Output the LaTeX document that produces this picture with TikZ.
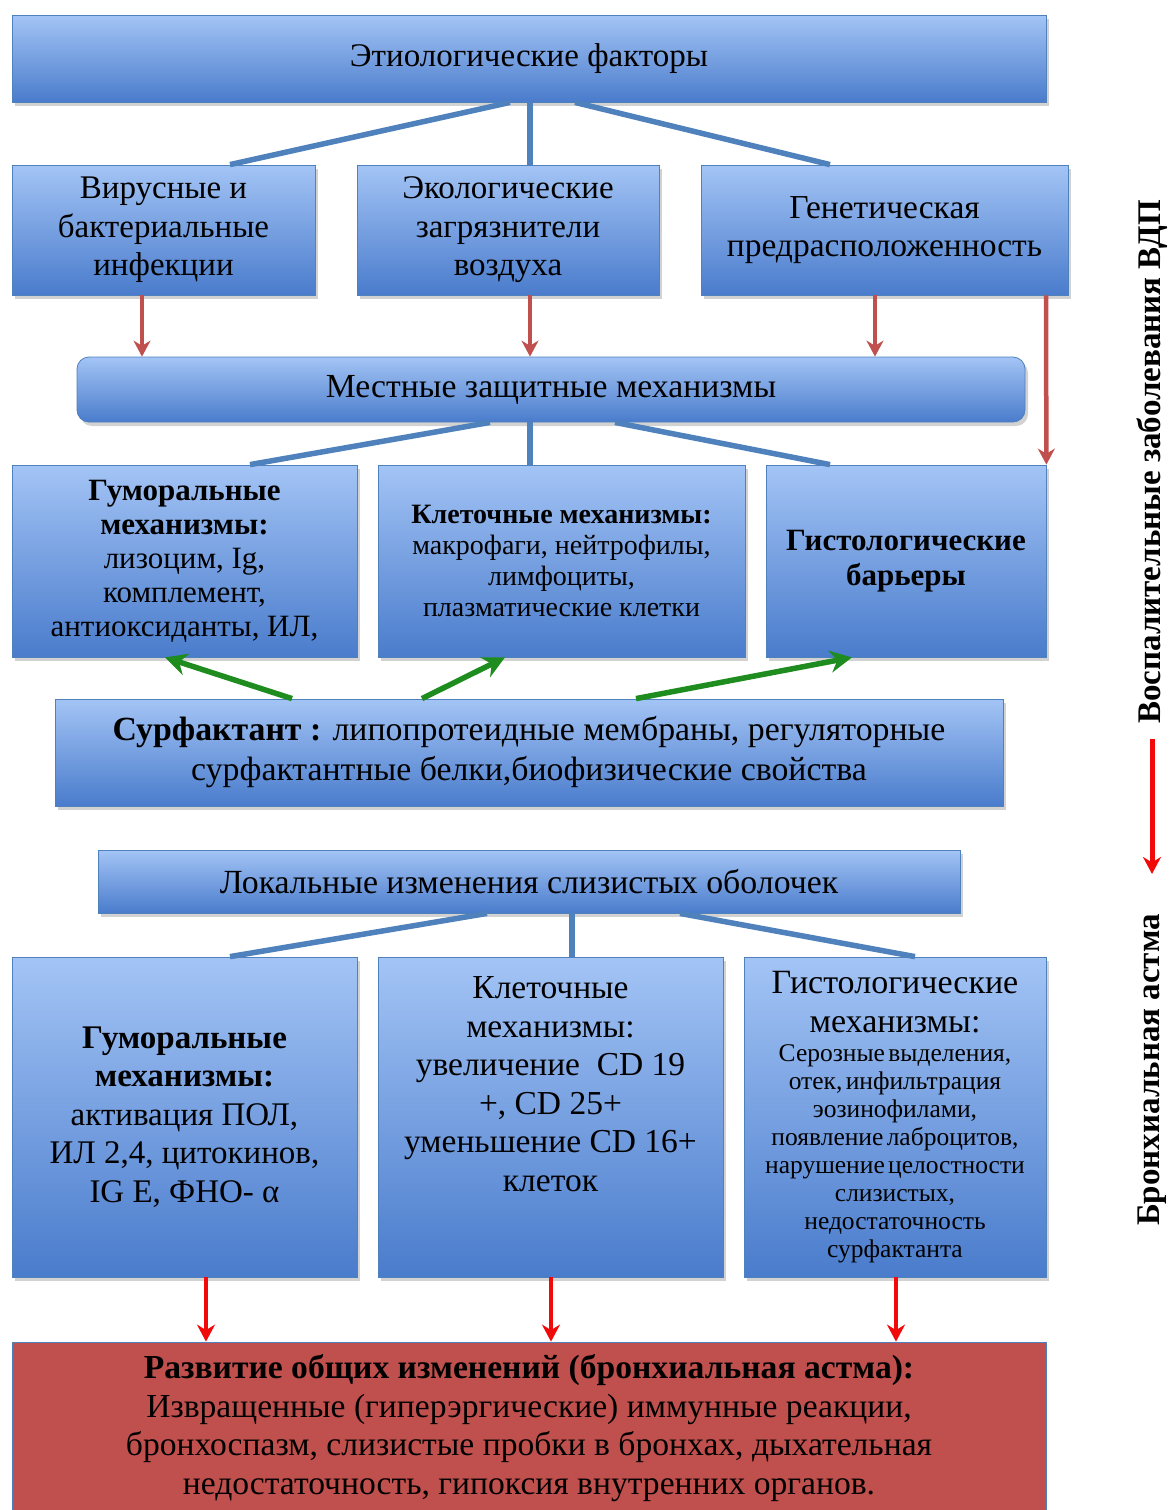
\documentclass[tikz,border=0pt]{standalone}
\usepackage{fontspec}
\setmainfont{Liberation Serif}
\usetikzlibrary{arrows.meta,shadows,calc}
\definecolor{boxtop}{RGB}{163,196,245}
\definecolor{boxbot}{RGB}{74,124,204}
\definecolor{boxline}{RGB}{79,129,189}
\definecolor{conn}{RGB}{79,129,189}
\definecolor{dred}{RGB}{192,80,77}
\definecolor{bred}{RGB}{240,10,10}
\definecolor{agreen}{RGB}{30,140,30}
\definecolor{finfill}{RGB}{192,80,77}
\newcommand\fsz[2]{\fontsize{#1}{#2}\selectfont}
\tikzset{
  bluebox/.style={draw=boxline, line width=0.8pt, top color=boxtop, bottom color=boxbot,
     drop shadow={shadow xshift=3pt,shadow yshift=-4pt,opacity=0.35}, align=center, inner sep=3pt},
  conline/.style={draw=conn, line width=5.5pt},
  redarr/.style={draw=dred, line width=4.5pt, -{Stealth[length=16pt,width=17pt]}},
  brarr/.style={draw=bred, line width=4.5pt, -{Stealth[length=17pt,width=18pt]}},
  grarr/.style={draw=agreen, line width=5.5pt, -{Stealth[length=22pt,width=22pt]}},
  vtext/.style={rotate=90, font=\bfseries\fsz{33}{38}, inner sep=2pt}
}
\begin{document}
\begin{tikzpicture}[x=1pt,y=-1pt]
\fill[white] (0,0) rectangle (1170,1510);
\useasboundingbox (0,0) rectangle (1170,1510);

% top
\node[bluebox, minimum width=1034pt, minimum height=87pt, font=\fsz{33}{38}] (top) at (529,58.5) {Этиологические факторы};

% row 2
\node[bluebox, minimum width=303pt, minimum height=130pt, font=\fsz{33}{38.5}] (vir) at (163.5,230) {Вирусные и\\бактериальные\\инфекции};
\node[bluebox, minimum width=302pt, minimum height=130pt, font=\fsz{33}{38.5}] (eco) at (508,230) {Экологические\\загрязнители\\воздуха};
\node[bluebox, minimum width=367pt, minimum height=130pt, font=\fsz{33.5}{38.5}] (gen) at (884.5,230) {Генетическая\\предрасположенность};

\draw[conline] ([xshift=-19pt]top.south) -- ([xshift=66.5pt]vir.north);
\draw[conline] ([xshift=1pt]top.south) -- ([xshift=22pt]eco.north);
\draw[conline] ([xshift=46pt]top.south) -- ([xshift=-54.5pt]gen.north);

% local defence
\node[bluebox, rounded corners=12pt, minimum width=948pt, minimum height=65pt, font=\fsz{33.7}{38}] (mest) at (551,389.5) {Местные защитные механизмы};

\draw[redarr] ([xshift=-21.5pt]vir.south) -- ([xshift=-21.5pt]vir.south |- mest.north);
\draw[redarr] ([xshift=22pt]eco.south) -- ([xshift=22pt]eco.south |- mest.north);
\draw[redarr] ([xshift=-9.5pt]gen.south) -- ([xshift=-9.5pt]gen.south |- mest.north);

% row 3
\node[bluebox, minimum width=345pt, minimum height=192pt, font=\fsz{31}{34}] (hum1) at (184.5,561) {\textbf{Гуморальные}\\\textbf{механизмы:}\\лизоцим, Ig,\\комплемент,\\антиоксиданты, ИЛ,};
\node[bluebox, minimum width=367pt, minimum height=192pt, font=\fsz{28}{31}] (kl1) at (561.5,561) {\textbf{Клеточные механизмы:}\\макрофаги, нейтрофилы,\\лимфоциты,\\плазматические клетки};
\node[bluebox, minimum width=280pt, minimum height=192pt, font=\fsz{31}{35}] (hist1) at (906,561) {\textbf{Гистологические}\\\textbf{барьеры}};

\draw[redarr] ([xshift=161.5pt]gen.south) -- (hist1.north east);

\draw[conline] ([xshift=-61pt]mest.south) -- ([xshift=65.5pt]hum1.north);
\draw[conline] ([xshift=-21pt]mest.south) -- ([xshift=-31.5pt]kl1.north);
\draw[conline] ([xshift=64pt]mest.south) -- ([xshift=-76pt]hist1.north);

% surfactant
\node[bluebox, minimum width=948pt, minimum height=107pt, font=\fsz{33.8}{40}] (surf) at (529,752.5) {\textbf{Сурфактант :} липопротеидные мембраны, регуляторные\\сурфактантные белки,биофизические свойства};

\draw[grarr] ([xshift=-237pt]surf.north) -- ([xshift=-19.5pt]hum1.south);
\draw[grarr] ([xshift=-107pt]surf.north) -- ([xshift=-56.5pt]kl1.south);
\draw[grarr] ([xshift=107pt]surf.north) -- ([xshift=-54pt]hist1.south);

% local changes
\node[bluebox, minimum width=862pt, minimum height=63pt, font=\fsz{33.8}{38}] (loc) at (529,881.5) {Локальные изменения слизистых оболочек};

% row 4
\node[bluebox, minimum width=345pt, minimum height=320pt, font=\fsz{33}{38.5}] (hum2) at (184.5,1117) {\textbf{Гуморальные}\\\textbf{механизмы:}\\активация ПОЛ,\\ИЛ 2,4, цитокинов,\\IG E, ФНО- α};
\node[bluebox, minimum width=345pt, minimum height=320pt] (kl2) at (550.5,1117) {};
\node[align=center, font=\fsz{33.5}{38.5}] (kl2t) at (550.5,1084) {Клеточные\\механизмы:\\увеличение~~CD 19\\+, CD 25+\\уменьшение CD 16+\\клеток};
\node[bluebox, minimum width=302pt, minimum height=320pt, text width=296pt] (hist2) at (895,1117) {{\fsz{34}{39}Гистологические\\механизмы:\par}\vspace{1pt}{\fsz{25.5}{28}Серозные выделения,\\отек, инфильтрация\\эозинофилами,\\появление лаброцитов,\\нарушение целостности\\слизистых,\\недостаточность\\сурфактанта\par}};

\draw[conline] ([xshift=-42pt]loc.south) -- ([xshift=45.5pt]hum2.north);
\draw[conline] ([xshift=43pt]loc.south) -- ([xshift=21.5pt]kl2.north);
\draw[conline] ([xshift=151pt]loc.south) -- ([xshift=20pt]hist2.north);

% final
\node[draw=boxline, line width=0.8pt, fill=finfill, minimum width=1034pt, minimum height=172pt, align=center, font=\fsz{33.6}{38.5}] (fin) at (529,1428) {\textbf{Развитие общих изменений (бронхиальная астма):}\\Извращенные (гиперэргические) иммунные реакции,\\бронхоспазм, слизистые пробки в бронхах, дыхательная\\недостаточность, гипоксия внутренних органов.};

\draw[brarr] ([xshift=21.5pt]hum2.south) -- ([xshift=21.5pt]hum2.south |- fin.north);
\draw[brarr] ([xshift=0.5pt]kl2.south) -- ([xshift=0.5pt]kl2.south |- fin.north);
\draw[brarr] ([xshift=1pt]hist2.south) -- ([xshift=1pt]hist2.south |- fin.north);

% right side
\node[vtext] (vz) at (1152,462) {Воспалительные заболевания ВДП};
\node[vtext] (ba) at (1152,1070) {Бронхиальная астма};
\draw[brarr, line width=5pt, shorten <=13pt, shorten >=38pt] (vz.west) -- (ba.east);
\end{tikzpicture}
\end{document}
